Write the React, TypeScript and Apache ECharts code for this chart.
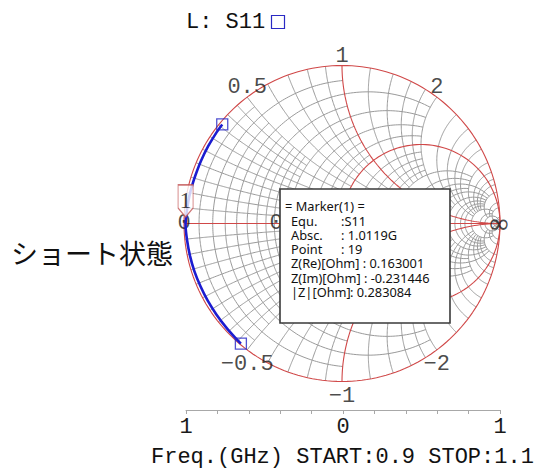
import React, { useEffect, useRef } from "react";
import * as echarts from "echarts";

// S11 trace, reflection coefficient (real / imaginary), 0.9 to 1.1 GHz
const traceRe = [-0.758, -0.794, -0.847, -0.892, -0.923, -0.945, -0.967, -0.981, -0.99, -0.981, -0.962, -0.934, -0.895, -0.849, -0.794, -0.732, -0.675, -0.64];
const traceIm = [0.627, 0.577, 0.489, 0.397, 0.318, 0.253, 0.17, 0.086, -0.009, -0.103, -0.205, -0.303, -0.399, -0.49, -0.577, -0.659, -0.724, -0.76];
const markerPoint = 8;

const reactanceTickValues = [0.5, 1, 2, -0.5, -1, -2];
const reactanceTickLabels = ["0.5", "1", "2", "\u22120.5", "\u22121", "\u22122"];
const resistanceTickValues = [0, 0.5];
const resistanceTickLabels = ["0", "0.5"];
const openLabel = "\u221E";

const magTickValues = [-1, 0, 1];
const magTickLabels = ["1", "0", "1"];

const headerText = "L: S11";
const footerText = "Freq.(GHz) START:0.9 STOP:1.1";
const sideText = "ショート状態";
const markerFlag = "1";

const markerTitle = "= Marker(1) =";
const markerKeys = ["Equ.", "Absc.", "Point"];
const markerVals = [":S11", ": 1.0119G", ": 19"];
const markerLines = ["Z(Re)[Ohm] : 0.163001", "Z(Im)[Ohm] : -0.231446"];
const markerLastKey = "|Z|[Ohm]";
const markerLastVal = ": 0.283084";

// Smith grid hierarchy: values and the bound where their arcs stop
const gridValues1 = [0.05, 0.15, 0.25, 0.35, 0.45];
const gridValues2 = [0.1, 0.3, 0.5, 0.7, 0.9];
const gridValues3 = [0.2, 0.4, 0.6, 0.8, 1.2, 1.4, 1.6, 1.8];
const gridValues4 = [2, 2.5, 3.5];
const gridValues5 = [3, 4, 5, 6, 7, 8];
const gridValues6 = [10, 15];
const gridValues7 = [20, 50];
const gridBounds = [0.5, 1, 2, 5, 10, 20, Infinity];
const redResistance = [0, 1];
const redReactance = [0, 1, -1];

const GRAY = "#9a9a9a";
const RED = "#d04848";
const BLUE = "#1c1cd0";
const MONO = "Liberation Mono";

function gamma(r: number, x: number): [number, number] {
  const d = (r + 1) * (r + 1) + x * x;
  if (!isFinite(d)) return [1, 0];
  return [(r * r + x * x - 1) / d, (2 * x) / d];
}

function resistanceCircle(r: number, X: number) {
  const n = 200;
  const a = Math.atan(X);
  const pts: [number, number][] = [];
  for (let i = 0; i <= n; i++) {
    const phi = -a + (2 * a * i) / n;
    pts.push(gamma(r, Math.tan(phi)));
  }
  return pts;
}

function reactanceArc(x: number, R: number) {
  const n = 160;
  const a = Math.atan(R);
  const pts: [number, number][] = [];
  for (let i = 0; i <= n; i++) {
    const phi = (a * i) / n;
    pts.push(gamma(Math.tan(phi), x));
  }
  return pts;
}

function lineSeries(data: [number, number][], color: string, width: number, z: number) {
  return {
    type: "line",
    data,
    xAxisIndex: 0,
    yAxisIndex: 0,
    showSymbol: false,
    symbol: "none",
    silent: true,
    clip: false,
    z,
    lineStyle: { color, width },
  };
}

export default function App() {
  const ref = useRef<HTMLDivElement>(null);
  useEffect(() => {
    if (!ref.current) return;
    const chart = echarts.init(ref.current, undefined, { renderer: "svg" });
    const series: any[] = [];
    const levels = [gridValues1, gridValues2, gridValues3, gridValues4, gridValues5, gridValues6, gridValues7];
    levels.forEach((vals, li) => {
      const b = gridBounds[li];
      vals.forEach((v) => {
        if (!redResistance.includes(v)) series.push(lineSeries(resistanceCircle(v, b), GRAY, 1, 1));
        if (!redReactance.includes(v)) {
          series.push(lineSeries(reactanceArc(v, b), GRAY, 1, 1));
          series.push(lineSeries(reactanceArc(-v, b), GRAY, 1, 1));
        }
      });
    });
    redResistance.forEach((r) => series.push(lineSeries(resistanceCircle(r, Infinity), RED, 1.1, 2)));
    redReactance.forEach((x) => series.push(lineSeries(reactanceArc(x, Infinity), RED, 1.1, 2)));

    const trace = traceRe.map((re, i) => [re, traceIm[i]]);
    series.push({
      type: "line",
      name: "S11",
      data: trace,
      showSymbol: false,
      symbol: "none",
      smooth: 0.3,
      z: 4,
      lineStyle: { color: BLUE, width: 2.6 },
    });
    series.push({
      type: "scatter",
      data: [trace[0], trace[trace.length - 1]],
      symbol: "rect",
      symbolSize: 11,
      z: 5,
      itemStyle: { color: "rgba(255,255,255,0)", borderColor: "#2626c4", borderWidth: 1.3 },
    });
    series.push({
      type: "scatter",
      data: [trace[markerPoint]],
      symbol: "path://M0,0 L15,0 L15,23 L7.5,32 L0,23 Z",
      symbolSize: [15, 32],
      symbolOffset: [0, -24],
      symbolKeepAspect: false,
      z: 6,
      itemStyle: { color: "#ffffff", borderColor: "#c25454", borderWidth: 1.2 },
      label: {
        show: true,
        formatter: markerFlag,
        position: "inside",
        offset: [0, -1],
        fontFamily: "Liberation Serif",
        fontSize: 24,
        color: "#111",
      },
    });
    // reactance labels on the rim
    series.push({
      type: "scatter",
      symbolSize: 1,
      z: 3,
      itemStyle: { color: "rgba(0,0,0,0)" },
      data: reactanceTickValues.map((x, i) => ({
        value: gamma(0, x),
        name: reactanceTickLabels[i],
        label: x > 0 ? { position: "top", distance: 3, offset: [0, 5] } : { position: "bottom", distance: 3 },
      })),
      label: { show: true, formatter: "{b}", fontFamily: MONO, fontSize: 22, color: "#1a1a1a" },
    });
    // resistance labels on the real axis
    series.push({
      type: "scatter",
      symbolSize: 1,
      z: 3,
      itemStyle: { color: "rgba(0,0,0,0)" },
      data: resistanceTickValues.map((r, i) => ({ value: gamma(r, 0), name: resistanceTickLabels[i] })),
      label: { show: true, position: "inside", formatter: "{b}", fontFamily: MONO, fontSize: 22, color: "#1a1a1a" },
    });
    series.push({
      type: "scatter",
      symbolSize: 1,
      z: 3,
      itemStyle: { color: "rgba(0,0,0,0)" },
      data: [{ value: [1, 0], name: openLabel }],
      label: { show: true, position: "inside", offset: [-1, 0], formatter: "{b}", fontFamily: "DejaVu Sans", fontSize: 28, color: "#1a1a1a" },
    });

    const txt = (text: string, x: number, y: number, size: number, family: string, z = 101, lh?: number) => ({
      type: "text",
      x,
      y,
      z,
      silent: true,
      style: {
        text,
        fontSize: size,
        fontFamily: family,
        fill: "#111",
        lineHeight: lh,
        align: "left",
        verticalAlign: "middle",
        textAlign: "left",
        textVerticalAlign: "middle",
      },
    });

    const F = "Noto Sans";
    const boxTexts: any[] = [txt(markerTitle, 285, 206, 12.8, F, 101, 13)];
    markerKeys.forEach((k, i) => {
      boxTexts.push(txt(k, 291, 220.5 + i * 14.3, 12.8, F, 101, 13));
      boxTexts.push(txt(markerVals[i], 341, 220.5 + i * 14.3, 12.8, F, 101, 13));
    });
    markerLines.forEach((l, i) => boxTexts.push(txt(l, 291, 263.4 + i * 14.2, 12.8, F, 101, 13)));
    boxTexts.push(txt(markerLastKey, 291, 291.8, 12.8, F, 101, 13));
    boxTexts.push(txt(markerLastVal, 350, 291.8, 12.8, F, 101, 13));

    chart.setOption({
      animation: false,
      grid: [
        { left: 184, top: 65.5, width: 316, height: 316 },
        { left: 186, top: 409, width: 314, height: 1 },
      ],
      xAxis: [
        { type: "value", gridIndex: 0, min: -1, max: 1, show: false },
        {
          type: "value",
          gridIndex: 1,
          min: -1,
          max: 1,
          interval: 0.2,
          position: "bottom",
          axisLine: { lineStyle: { color: "#a8a8a8", width: 1 } },
          axisTick: { length: 4, lineStyle: { color: "#a8a8a8" } },
          splitLine: { show: false },
          axisLabel: {
            interval: 0,
            margin: 6,
            fontFamily: MONO,
            fontSize: 22,
            color: "#1a1a1a",
            formatter: (v: number) => {
              const i = magTickValues.findIndex((t) => Math.abs(t - v) < 1e-6);
              return i >= 0 ? magTickLabels[i] : "";
            },
          },
        },
      ],
      yAxis: [
        { type: "value", gridIndex: 0, min: -1, max: 1, show: false },
        { type: "value", gridIndex: 1, min: 0, max: 1, show: false },
      ],
      series,
      graphic: [
        txt(headerText, 186, 22, 22, MONO),
        {
          type: "rect",
          z: 101,
          shape: { x: 271.5, y: 15.5, width: 13, height: 13 },
          style: { fill: "none", stroke: "#2a2ac4", lineWidth: 1.2 },
        },
        txt(sideText, 11, 252, 27, "Noto Sans CJK JP"),
        txt(footerText, 151, 457, 22, MONO),
        {
          type: "rect",
          z: 100,
          shape: { x: 280, y: 189, width: 170, height: 134 },
          style: { fill: "#ffffff", stroke: "#3a3a3a", lineWidth: 1.6 },
        },
        ...boxTexts,
      ],
    });
    return () => chart.dispose();
  }, []);
  return <div ref={ref} style={{ position: "absolute", left: 0, top: 0, width: 535, height: 472 }} />;
}
